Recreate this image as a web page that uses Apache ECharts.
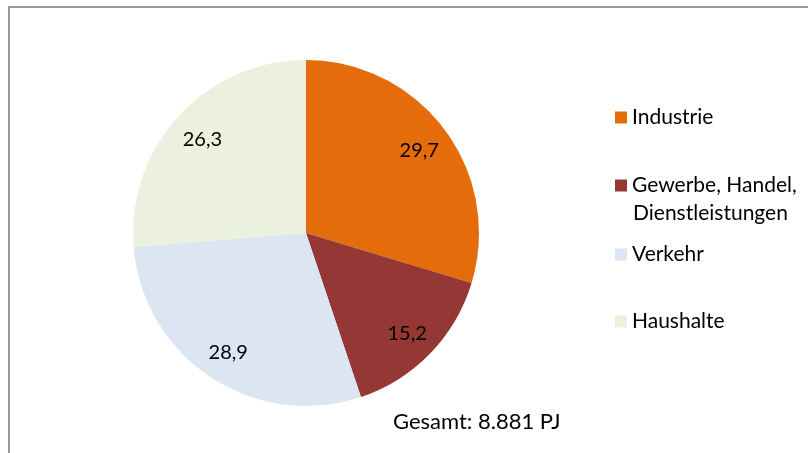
<!DOCTYPE html>
<html>
<head>
<meta charset="utf-8">
<script src="https://cdn.jsdelivr.net/npm/echarts@6/dist/echarts.min.js"></script>
<style>
html,body{margin:0;padding:0;background:#fff;}
#chart{width:808px;height:453px;}
</style>
</head>
<body>
<div id="chart"></div>
<script>
const categories = ['Industrie', 'Gewerbe, Handel, Dienstleistungen', 'Verkehr', 'Haushalte'];
const values = [29.7, 15.2, 28.9, 26.3];
const colors = ['#E46C0A', '#953735', '#DCE6F2', '#EBF1DE'];
const totalText = 'Gesamt: 8.881 PJ';

const FONT = 'Lato';
const FS = 20;
const LFS = 21;
const data = categories.map((c, i) => ({ name: c, value: values[i], itemStyle: { color: colors[i] } }));

const legendTops = [107, 175, 244, 311];
const legends = categories.map((c, i) => ({
  data: [c],
  orient: 'vertical',
  left: 615,
  top: legendTops[i],
  padding: 0,
  icon: 'rect',
  itemWidth: 12,
  itemHeight: 12,
  itemGap: 6,
  selectedMode: false,
  formatter: n => n === categories[1] ? 'Gewerbe, Handel,' : n,
  textStyle: { fontFamily: FONT, fontSize: LFS, color: '#000', lineHeight: 20 }
}));

const chart = echarts.init(document.getElementById('chart'));
chart.setOption({
  animation: false,
  backgroundColor: '#fff',
  legend: legends,
  graphic: [
    { type: 'rect', shape: { x: 9, y: 7, width: 820, height: 470 }, style: { fill: 'none', stroke: '#999', lineWidth: 2 }, silent: true },
    { type: 'text', left: 633, top: 203, style: { text: 'Dienstleistungen', font: LFS + 'px ' + FONT, fill: '#000' } },
    { type: 'text', left: 393, top: 411, style: { text: totalText, font: '22px ' + FONT, fill: '#000' } }
  ],
  series: [
    {
      type: 'pie',
      center: [306, 233],
      radius: [0, 173],
      startAngle: 90,
      data: data,
      label: { show: false },
      labelLine: { show: false },
      emphasis: { disabled: true },
      silent: true
    },
    {
      type: 'pie',
      center: [306, 233],
      radius: [103, 173],
      startAngle: 90,
      data: data.map(d => ({ name: d.name, value: d.value })),
      itemStyle: { color: 'rgba(0,0,0,0)' },
      label: {
        show: true,
        position: 'inside',
        fontFamily: FONT,
        fontSize: FS,
        color: '#000',
        offset: [0, 2],
        formatter: p => String(p.value).replace('.', ',')
      },
      labelLine: { show: false },
      emphasis: { disabled: true },
      silent: true,
      legendHoverLink: false
    }
  ]
});
</script>
</body>
</html>
